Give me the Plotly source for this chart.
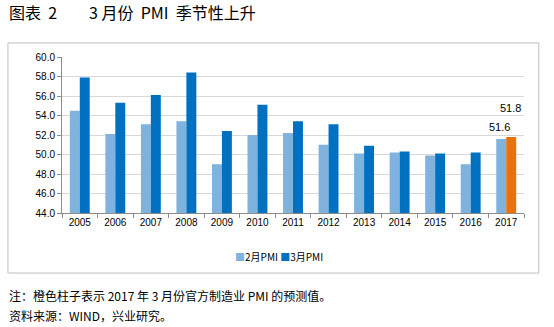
import plotly.graph_objects as go

years = ["2005","2006","2007","2008","2009","2010","2011","2012","2013","2014","2015","2016","2017"]
feb_pmi = [54.5, 52.1, 53.1, 53.4, 49.0, 52.0, 52.2, 51.0, 50.1, 50.2, 49.9, 49.0, 51.6]
mar_pmi = [57.9, 55.3, 56.1, 58.4, 52.4, 55.1, 53.4, 53.1, 50.9, 50.3, 50.1, 50.2, 51.8]
y_ticks = [44.0, 46.0, 48.0, 50.0, 52.0, 54.0, 56.0, 58.0, 60.0]
series_names = ["2月PMI", "3月PMI"]

light = "#7FB2DD"
dark = "#0070C0"
orange = "#E8720C"
mar_colors = [dark] * (len(years) - 1) + [orange]

fig = go.Figure()
fig.add_trace(go.Bar(x=years, y=feb_pmi, name=series_names[0], marker=dict(color=light, line=dict(width=0))))
fig.add_trace(go.Bar(x=years, y=mar_pmi, name=series_names[1], marker=dict(color=mar_colors, line=dict(width=0))))

ax_font = dict(family="Liberation Sans, Arial, sans-serif", size=10, color="#000000")
fig.update_layout(
    width=554, height=327,
    margin=dict(l=62, r=30, t=57, b=114),
    paper_bgcolor="white", plot_bgcolor="white",
    barmode="group", bargap=0.44, bargroupgap=0,
    showlegend=False,
    xaxis=dict(type="category", categoryorder="array", categoryarray=years,
               range=[-0.5, len(years) - 0.5],
               showline=True, linecolor="#8c8c8c", linewidth=1,
               ticks="outside", tickson="boundaries", ticklen=4, tickcolor="#8c8c8c",
               tickfont=ax_font, showgrid=False),
    yaxis=dict(range=[44, 60], tickvals=y_ticks, tickformat=".1f",
               showline=True, linecolor="#8c8c8c", linewidth=1,
               ticks="outside", ticklen=4, tickcolor="#8c8c8c",
               gridcolor="#D9D9D9", gridwidth=1, tickfont=ax_font, zeroline=False),
)

# data labels for 2017 (category index of last year)
last = len(years) - 1
fig.add_annotation(x=last, y=feb_pmi[-1], text=f"{feb_pmi[-1]:.1f}", showarrow=False,
                   xshift=-7, yshift=12, font=dict(family="Liberation Sans, Arial", size=11, color="#000"))
fig.add_annotation(x=last, y=mar_pmi[-1], text=f"{mar_pmi[-1]:.1f}", showarrow=False,
                   xshift=4, yshift=29, font=dict(family="Liberation Sans, Arial", size=11, color="#000"))

# compact legend
legend_text = (f"<span style='color:{light}'>■</span>{series_names[0]} "
               f"<span style='color:{dark}'>■</span>{series_names[1]}")
fig.add_annotation(xref="paper", yref="paper", x=0.371, y=-0.28, xanchor="left", yanchor="middle",
                   text=legend_text, showarrow=False,
                   font=dict(family="Noto Sans CJK SC, sans-serif", size=10, color="#000"))

# outer chart border
fig.add_shape(type="rect", xref="paper", yref="paper", x0=-0.117, x1=1.032, y0=-0.385, y1=1.09,
              line=dict(color="#BFBFBF", width=1), layer="below")

# title and notes
fig.add_annotation(xref="paper", yref="paper", x=-0.12, y=1.29, xanchor="left", yanchor="middle",
                   text="图表  2　　3 月份  PMI  季节性上升", showarrow=False,
                   font=dict(family="Noto Sans CJK SC", size=16, color="#000"))
fig.add_annotation(xref="paper", yref="paper", x=-0.12, y=-0.53, xanchor="left", yanchor="middle",
                   text="注：橙色柱子表示 2017 年 3 月份官方制造业 PMI 的预测值。", showarrow=False,
                   font=dict(family="Noto Sans CJK SC", size=12, color="#000"))
fig.add_annotation(xref="paper", yref="paper", x=-0.12, y=-0.66, xanchor="left", yanchor="middle",
                   text="资料来源：WIND，兴业研究。", showarrow=False,
                   font=dict(family="Noto Sans CJK SC", size=12, color="#000"))

fig.write_html("out.html")
